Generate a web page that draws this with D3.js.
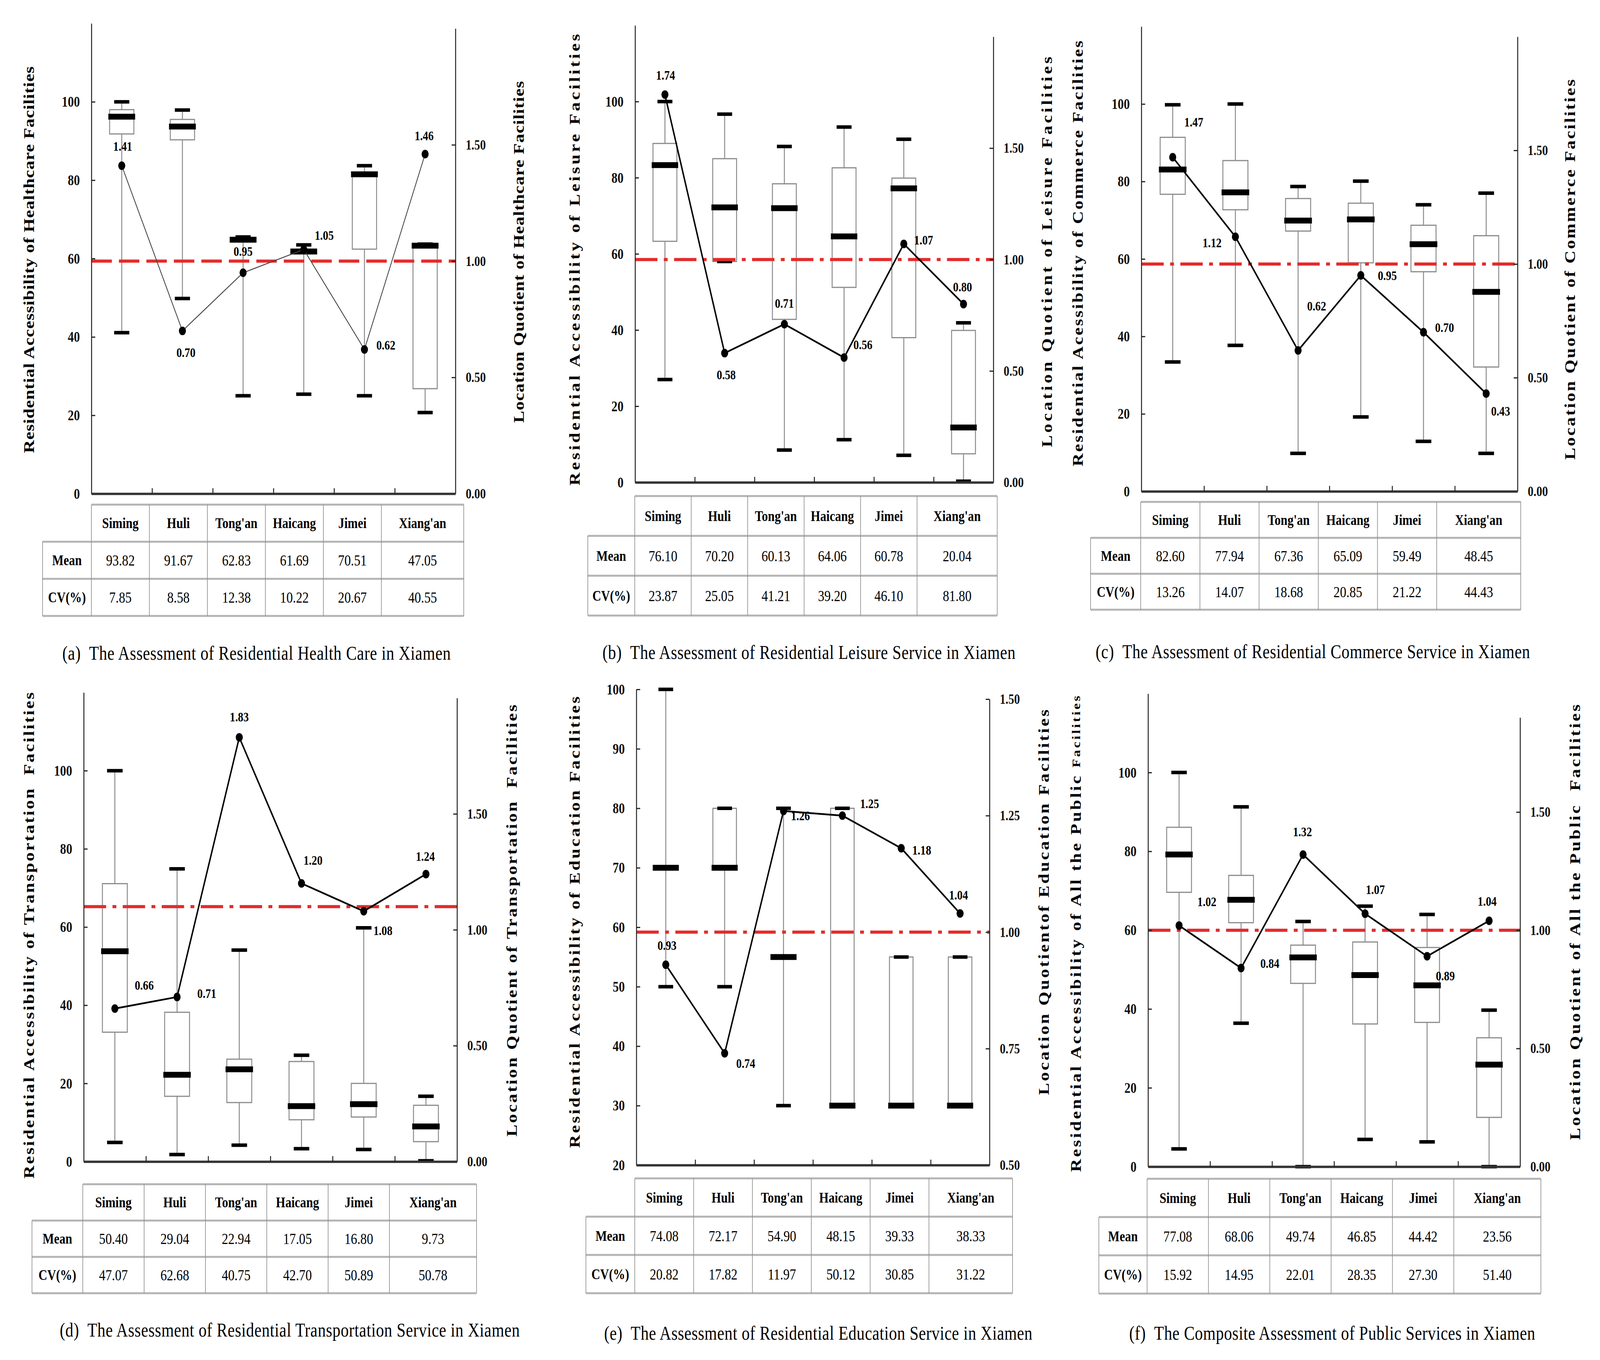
<!DOCTYPE html>
<html>
<head>
<meta charset="utf-8">
<script src="https://cdn.jsdelivr.net/npm/d3@7"></script>
<style>
  html, body { margin: 0; padding: 0; background: #fff; overflow: hidden; }
  svg { display: block; width: 100vw; height: 100vh; }
  text { font-family: "Liberation Serif", "Times New Roman", serif; }
</style>
</head>
<body>
<svg id="fig"></svg>
<script>
var W = 5006, H = 3482;

var districts = ["Siming", "Huli", "Tong'an", "Haicang", "Jimei", "Xiang'an"];
var rowLabels = ["Mean", "CV(%)"];

// box stats per district: [min, q1, median, q3, max]
var healthBox = [[41.1, 91.8, 96.2, 98.0, 100], [49.8, 90.3, 93.7, 95.5, 97.9], [25.0, 64.3, 64.8, 65.3, 65.5],
                 [25.4, 61.3, 61.8, 62.4, 63.5], [25.0, 62.4, 81.5, 82.0, 83.7], [20.7, 26.8, 63.3, 63.7, 63.7]];
var leisureBox = [[27.0, 63.3, 83.3, 89.0, 100], [58.0, 58.0, 72.2, 85.0, 96.7], [8.5, 42.8, 72.0, 78.4, 88.2],
                  [11.2, 51.2, 64.6, 82.6, 93.3], [7.1, 38.0, 77.2, 79.9, 90.1], [0.3, 7.5, 14.4, 39.9, 41.9]];
var commerceBox = [[33.4, 76.7, 83.1, 91.4, 99.8], [37.7, 72.7, 77.2, 85.4, 100], [9.8, 67.2, 69.9, 75.6, 78.7],
                   [19.2, 59.0, 70.2, 74.4, 80.1], [12.9, 56.7, 63.8, 68.7, 74.0], [9.8, 32.1, 51.5, 66.0, 77.0]];
var transportBox = [[4.9, 33.1, 53.8, 71.1, 100], [1.8, 16.7, 22.2, 38.2, 74.9], [4.2, 15.1, 23.6, 26.2, 54.1],
                    [3.3, 10.7, 14.2, 25.6, 27.2], [3.1, 11.4, 14.7, 20.0, 59.8], [0.2, 5.1, 9.0, 14.4, 16.7]];
var educationBox = [[50, 70, 70, 70, 100], [50, 70, 70, 80, 80], [30, 55, 55, 55, 80],
                    [30, 30, 30, 80, 80], [30, 30, 30, 55, 55], [30, 30, 30, 55, 55]];
var publicBox = [[4.5, 69.6, 79.2, 86.1, 100], [36.4, 61.9, 67.7, 73.9, 91.3], [0, 46.5, 53.1, 56.2, 62.2],
                 [6.9, 36.2, 48.6, 57.0, 66.1], [6.3, 36.6, 46.0, 55.6, 64.0], [0, 12.5, 25.9, 32.7, 39.7]];

// location quotients
var healthLQ = [1.41, 0.70, 0.95, 1.05, 0.62, 1.46];
var leisureLQ = [1.74, 0.58, 0.71, 0.56, 1.07, 0.80];
var commerceLQ = [1.47, 1.12, 0.62, 0.95, 0.70, 0.43];
var transportLQ = [0.66, 0.71, 1.83, 1.20, 1.08, 1.24];
var educationLQ = [0.93, 0.74, 1.26, 1.25, 1.18, 1.04];
var publicLQ = [1.02, 0.84, 1.32, 1.07, 0.89, 1.04];

// table values
var healthMean = ["93.82", "91.67", "62.83", "61.69", "70.51", "47.05"];
var healthCV = ["7.85", "8.58", "12.38", "10.22", "20.67", "40.55"];
var leisureMean = ["76.10", "70.20", "60.13", "64.06", "60.78", "20.04"];
var leisureCV = ["23.87", "25.05", "41.21", "39.20", "46.10", "81.80"];
var commerceMean = ["82.60", "77.94", "67.36", "65.09", "59.49", "48.45"];
var commerceCV = ["13.26", "14.07", "18.68", "20.85", "21.22", "44.43"];
var transportMean = ["50.40", "29.04", "22.94", "17.05", "16.80", "9.73"];
var transportCV = ["47.07", "62.68", "40.75", "42.70", "50.89", "50.78"];
var educationMean = ["74.08", "72.17", "54.90", "48.15", "39.33", "38.33"];
var educationCV = ["20.82", "17.82", "11.97", "50.12", "30.85", "31.22"];
var publicMean = ["77.08", "68.06", "49.74", "46.85", "44.42", "23.56"];
var publicCV = ["15.92", "14.95", "22.01", "28.35", "27.30", "51.40"];

var ticks100 = [0, 20, 40, 60, 80, 100];
var ticksEdu = [20, 30, 40, 50, 60, 70, 80, 90, 100];
var ticksLQ = [0, 0.5, 1, 1.5];
var ticksLQEdu = [0.5, 0.75, 1, 1.25, 1.5];
var refLines = [1.00, 1.00, 1.00, 1.10, 1.00, 1.00];

var yTitles = [
  "Residential Accessibility of Healthcare Facilities",
  "Residential Accessibility of Leisure Facilities",
  "Residential Acessibility of Commerce Facilities",
  "Residential Accessibility of Transportation  Facilities",
  "Residential Accessibility of Education Facilities",
  "Residential Accessibility of All the Public Facilities"];
var rTitles = [
  "Location Quotient of Healthcare Facilities",
  "Location Quotient of Leisure Facilities",
  "Location Quotient of Commerce Facilities",
  "Location Quotient of Transportation  Facilities",
  "Location Quotientof Education Facilities",
  "Location Quotient of All the Public  Facilities"];
var captions = [
  "(a)  The Assessment of Residential Health Care in Xiamen",
  "(b)  The Assessment of Residential Leisure Service in Xiamen",
  "(c)  The Assessment of Residential Commerce Service in Xiamen",
  "(d)  The Assessment of Residential Transportation Service in Xiamen",
  "(e)  The Assessment of Residential Education Service in Xiamen",
  "(f)  The Composite Assessment of Public Services in Xiamen"];

var panels = [
  {box: healthBox, lq: healthLQ, mean: healthMean, cv: healthCV, lDom: [0, 120], rDom: [0, 2], lTicks: ticks100, rTicks: ticksLQ},
  {box: leisureBox, lq: leisureLQ, mean: leisureMean, cv: leisureCV, lDom: [0, 120], rDom: [0, 2], lTicks: ticks100, rTicks: ticksLQ},
  {box: commerceBox, lq: commerceLQ, mean: commerceMean, cv: commerceCV, lDom: [0, 120], rDom: [0, 2], lTicks: ticks100, rTicks: ticksLQ},
  {box: transportBox, lq: transportLQ, mean: transportMean, cv: transportCV, lDom: [0, 120], rDom: [0, 2], lTicks: ticks100, rTicks: ticksLQ},
  {box: educationBox, lq: educationLQ, mean: educationMean, cv: educationCV, lDom: [20, 100], rDom: [0.5, 1.5], lTicks: ticksEdu, rTicks: ticksLQEdu},
  {box: publicBox, lq: publicLQ, mean: publicMean, cv: publicCV, lDom: [0, 120], rDom: [0, 1.9], lTicks: ticks100, rTicks: ticksLQ}
];

// page layout (pixels)
var layouts = [
  {L: 286, R: 1425, top: 60, bottom: 1264, rTop: 73, tl: [91, 665, 990], tr: [1623, 645, 875],
   tab: {x0: 133, xh: 286, xr: 1451, t: 1292, rh: 95}, cap: [195, 1672, 1215], dash: "64,22", lw: 2.5, lc: "#444"},
  {L: 1987, R: 3108, top: 65, bottom: 1235, rTop: 94, tl: [1798, 665, 1156], tr: [3276, 645, 1000],
   tab: {x0: 1839, xh: 1986, xr: 3120, t: 1270, rh: 102}, cap: [1885, 1670, 1292]},
  {L: 3571, R: 4748, top: 68, bottom: 1258, rTop: 94, tl: [3372, 649, 1090], tr: [4912, 690, 974],
   tab: {x0: 3412, xh: 3569, xr: 4758, t: 1285, rh: 92}, cap: [3428, 1668, 1359]},
  {L: 262, R: 1430, top: 1773, bottom: 2974, rTop: 1787, tl: [91, 2395, 1245], tr: [1602, 2357, 1106],
   tab: {x0: 100, xh: 259, xr: 1491, t: 3032, rh: 93}, cap: [187, 3405, 1439]},
  {L: 1991, R: 3096, top: 1765, bottom: 2983, rTop: 1790, tl: [1798, 2361, 1156], tr: [3266, 2310, 987],
   tab: {x0: 1833, xh: 1986, xr: 3168, t: 3017, rh: 98}, cap: [1890, 3413, 1340]},
  {L: 3592, R: 4756, top: 1776, bottom: 2987, rTop: 1837, tl: [3367, 2391, 1219], tr: [4928, 2361, 1115],
   tab: {x0: 3438, xh: 3589, xr: 4821, t: 3018, rh: 98}, cap: [3533, 3413, 1270], smallTail: true}
];

// label offsets from each LQ point
var labelOffsets = [
  [[3, -50], [11, 55], [0, -55], [64, -37], [67, -12], [-3, -47]],
  [[2, -50], [5, 55], [0, -54], [59, -33], [62, -10], [-3, -44]],
  [[66, -90], [-73, 15], [58, -114], [83, 0], [66, -12], [45, 44]],
  [[92, -60], [93, -10], [0, -53], [36, -60], [60, 49], [-2, -46]],
  [[4, -50], [66, 25], [53, 12], [85, -31], [64, 4], [-5, -48]],
  [[87, -62], [90, -12], [-2, -59], [32, -62], [57, 50], [-6, -50]]
];

var fmt2 = d3.format(".2f");
var FONT = '"Liberation Serif", "Times New Roman", serif';

// the window may be narrower than the figure: stretch the figure to fill it
var svg = d3.select("#fig")
    .attr("viewBox", "0 0 " + W + " " + H)
    .attr("preserveAspectRatio", "none");
svg.append("rect").attr("width", W).attr("height", H).attr("fill", "#fff");

function vtitle(g, pos, txt, smallTail) {
  var t = g.append("text")
      .attr("transform", "translate(" + pos[0] + "," + pos[1] + ") rotate(-90)")
      .attr("text-anchor", "middle")
      .attr("dominant-baseline", "central")
      .attr("font-size", 46)
      .attr("font-weight", "bold")
      .attr("textLength", pos[2])
      .attr("lengthAdjust", "spacing")
      .style("white-space", "pre");
  if (smallTail) {
    var cut = txt.lastIndexOf(" ");
    t.append("tspan").text(txt.slice(0, cut + 1));
    t.append("tspan").attr("font-size", 36).text(txt.slice(cut + 1));
  } else {
    t.text(txt);
  }
}

function styleAxis(a) {
  a.attr("font-family", FONT).attr("font-size", 38).attr("font-weight", "bold");
  a.selectAll("path.domain").attr("stroke", "#222").attr("stroke-width", 3);
  a.selectAll(".tick line").attr("stroke", "#222").attr("stroke-width", 3);
  a.selectAll(".tick text").attr("fill", "#111");
}

function drawPanel(i) {
  var p = panels[i], lay = layouts[i], offs = labelOffsets[i];
  var g = svg.append("g");

  var x = d3.scaleBand().domain(districts).range([lay.L, lay.R]);
  var y = d3.scaleLinear().domain(p.lDom).range([lay.bottom, lay.top]);
  var y2 = d3.scaleLinear().domain(p.rDom).range([lay.bottom, lay.rTop]);
  var bw = x.bandwidth(), boxW = bw * 0.4, capW = bw * 0.25;
  function cx(d) { return x(d.name) + bw / 2; }

  var rows = districts.map(function(d, k) {
    var b = p.box[k];
    return {name: d, min: b[0], q1: b[1], med: b[2], q3: b[3], max: b[4], lq: p.lq[k], k: k};
  });

  // whiskers
  g.selectAll(".wh").data(rows).enter().append("line")
      .attr("x1", cx).attr("x2", cx)
      .attr("y1", function(d) { return y(d.min); })
      .attr("y2", function(d) { return y(d.max); })
      .attr("stroke", "#8c8c8c").attr("stroke-width", 3);

  // boxes
  g.selectAll(".bx").data(rows).enter().append("rect")
      .attr("x", function(d) { return cx(d) - boxW / 2; })
      .attr("width", boxW)
      .attr("y", function(d) { return y(d.q3); })
      .attr("height", function(d) { return Math.max(0, y(d.q1) - y(d.q3)); })
      .attr("fill", "#fff").attr("stroke", "#8c8c8c").attr("stroke-width", 3);

  // whisker caps
  ["min", "max"].forEach(function(key) {
    g.selectAll(".cap-" + key).data(rows).enter().append("line")
        .attr("x1", function(d) { return cx(d) - capW / 2; })
        .attr("x2", function(d) { return cx(d) + capW / 2; })
        .attr("y1", function(d) { return y(d[key]); })
        .attr("y2", function(d) { return y(d[key]); })
        .attr("stroke", "#000").attr("stroke-width", 9);
  });

  // medians
  g.selectAll(".md").data(rows).enter().append("line")
      .attr("x1", function(d) { return cx(d) - boxW / 2 - 4; })
      .attr("x2", function(d) { return cx(d) + boxW / 2 + 4; })
      .attr("y1", function(d) { return y(d.med); })
      .attr("y2", function(d) { return y(d.med); })
      .attr("stroke", "#000").attr("stroke-width", 15);

  // reference line (LQ)
  g.append("line")
      .attr("x1", lay.L).attr("x2", lay.R)
      .attr("y1", y2(refLines[i])).attr("y2", y2(refLines[i]))
      .attr("stroke", "#e32b2b").attr("stroke-width", 8)
      .attr("stroke-dasharray", lay.dash || "70,20,12,20");

  // axes
  var ax = g.append("g").attr("transform", "translate(" + lay.L + ",0)")
      .call(d3.axisLeft(y).tickValues(p.lTicks).tickFormat(d3.format("d"))
        .tickSize(-12).tickSizeOuter(0).tickPadding(36));
  styleAxis(ax);

  var ar = g.append("g").attr("transform", "translate(" + lay.R + ",0)")
      .call(d3.axisRight(y2).tickValues(p.rTicks).tickFormat(fmt2)
        .tickSize(-12).tickSizeOuter(0).tickPadding(32));
  styleAxis(ar);
  ar.attr("font-size", 36);

  var xb = d3.scaleLinear().domain([0, districts.length]).range([lay.L, lay.R]);
  var abot = g.append("g").attr("transform", "translate(0," + lay.bottom + ")")
      .call(d3.axisBottom(xb).tickValues(d3.range(1, districts.length))
        .tickSize(-14).tickSizeOuter(0).tickFormat(""));
  styleAxis(abot);
  abot.select("path.domain").attr("stroke", "#333").attr("stroke-width", 6);

  // LQ line + points + labels
  var line = d3.line().x(cx).y(function(d) { return y2(d.lq); });
  g.append("path").datum(rows).attr("d", line)
      .attr("fill", "none").attr("stroke", lay.lc || "#000").attr("stroke-width", lay.lw || 4.5);
  g.selectAll(".pt").data(rows).enter().append("circle")
      .attr("cx", cx).attr("cy", function(d) { return y2(d.lq); })
      .attr("r", 11).attr("fill", "#000");
  g.selectAll(".lb").data(rows).enter().append("text")
      .attr("x", function(d) { return cx(d) + offs[d.k][0]; })
      .attr("y", function(d) { return y2(d.lq) + offs[d.k][1]; })
      .attr("dy", "0.35em")
      .attr("text-anchor", "middle")
      .attr("font-size", 34).attr("font-weight", "bold")
      .text(function(d) { return fmt2(d.lq); });

  vtitle(g, lay.tl, yTitles[i], lay.smallTail);
  vtitle(g, lay.tr, rTitles[i], false);

  // caption
  g.append("text")
      .attr("x", lay.cap[0]).attr("y", lay.cap[1])
      .attr("dominant-baseline", "central")
      .attr("font-size", 50)
      .attr("textLength", lay.cap[2]).attr("lengthAdjust", "spacing")
      .style("white-space", "pre")
      .text(captions[i]);
}

function drawTable(i) {
  var p = panels[i], t = layouts[i].tab;
  var g = svg.append("g");
  var n = districts.length;
  var cw = (t.xr - t.xh) / (n - 1 + 1.42);
  var cols = districts.map(function(d, k) {
    var x0 = t.xh + k * cw;
    return {name: d, x: x0, w: k === n - 1 ? t.xr - x0 : cw};
  });
  var hc = "#b4b4b4", vc = "#8f8f8f";

  // horizontal rules
  g.append("line").attr("x1", t.xh).attr("x2", t.xr).attr("y1", t.t).attr("y2", t.t)
      .attr("stroke", hc).attr("stroke-width", 5);
  [1, 2, 3].forEach(function(r) {
    g.append("line").attr("x1", t.x0).attr("x2", t.xr)
        .attr("y1", t.t + r * t.rh).attr("y2", t.t + r * t.rh)
        .attr("stroke", hc).attr("stroke-width", 5);
  });
  // vertical rules
  g.append("line").attr("x1", t.x0).attr("x2", t.x0).attr("y1", t.t + t.rh).attr("y2", t.t + 3 * t.rh)
      .attr("stroke", vc).attr("stroke-width", 2);
  cols.forEach(function(c) {
    g.append("line").attr("x1", c.x).attr("x2", c.x).attr("y1", t.t).attr("y2", t.t + 3 * t.rh)
        .attr("stroke", vc).attr("stroke-width", 2);
  });
  g.append("line").attr("x1", t.xr).attr("x2", t.xr).attr("y1", t.t).attr("y2", t.t + 3 * t.rh)
      .attr("stroke", vc).attr("stroke-width", 2);

  // header
  g.selectAll(".hd").data(cols).enter().append("text")
      .attr("x", function(c) { return c.x + c.w / 2; })
      .attr("y", t.t + t.rh / 2)
      .attr("dominant-baseline", "central").attr("text-anchor", "middle")
      .attr("font-size", 38).attr("font-weight", "bold")
      .text(function(c) { return c.name; });

  [p.mean, p.cv].forEach(function(vals, r) {
    var yc = t.t + (r + 1.5) * t.rh;
    g.append("text").attr("x", (t.x0 + t.xh) / 2).attr("y", yc)
        .attr("dominant-baseline", "central").attr("text-anchor", "middle")
        .attr("font-size", 38).attr("font-weight", "bold")
        .text(rowLabels[r]);
    g.selectAll(".v" + r).data(cols).enter().append("text")
        .attr("x", function(c) { return c.x + c.w / 2; })
        .attr("y", yc)
        .attr("dominant-baseline", "central").attr("text-anchor", "middle")
        .attr("font-size", 40)
        .text(function(c, k) { return vals[k]; });
  });
}

for (var i = 0; i < panels.length; i++) {
  drawPanel(i);
  drawTable(i);
}
</script>
</body>
</html>
